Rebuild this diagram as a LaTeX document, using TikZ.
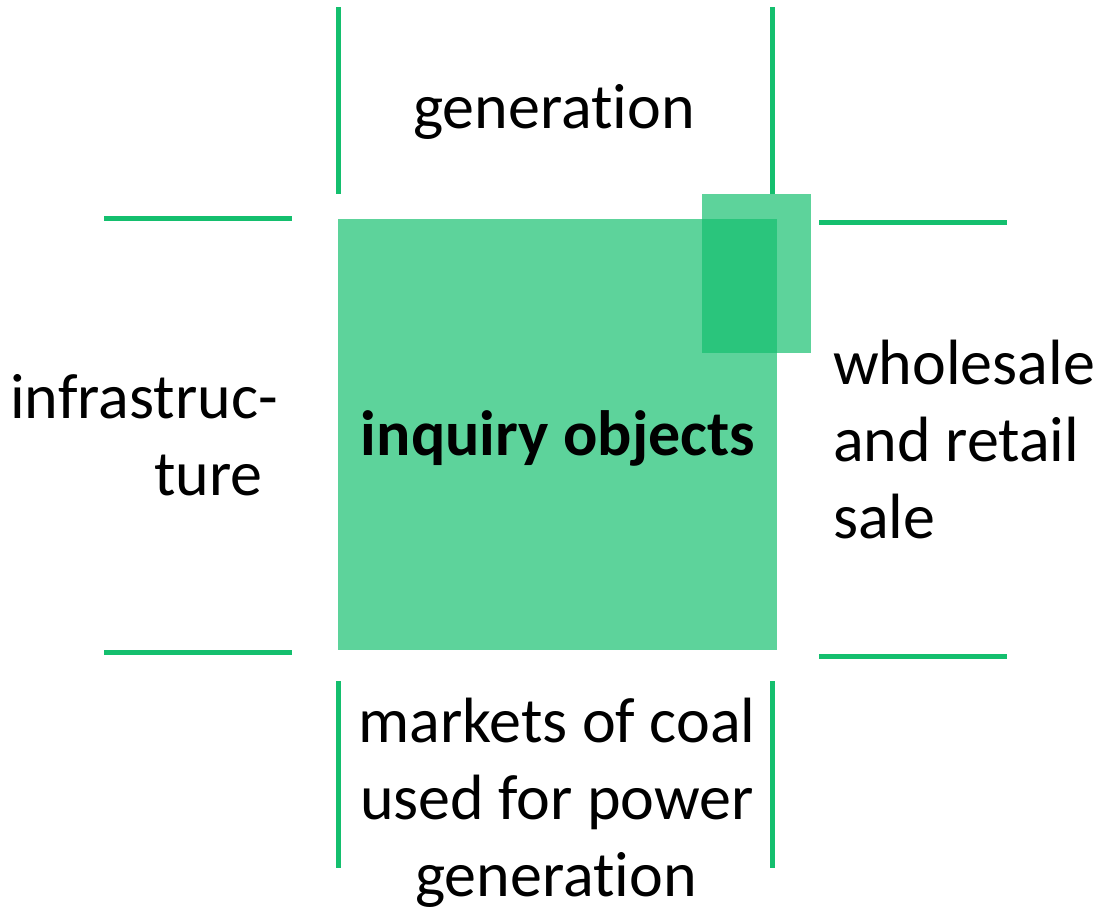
\documentclass[tikz,border=0pt]{standalone}
\usepackage{fontspec}
\setmainfont[Ligatures=NoCommon]{Carlito}
\definecolor{grn}{RGB}{20,191,110}
\begin{document}
\begin{tikzpicture}[x=1pt,y=-1pt,
  bar/.style={draw=grn, line width=5pt},
  sq/.style={fill=grn, fill opacity=0.69, draw=none, inner sep=0pt, anchor=north west},
  lbl/.style={font=\fontsize{64}{77}\selectfont, inner sep=0pt, anchor=base}]
\useasboundingbox (0,0) rectangle (1098,906);
\node[sq, minimum width=439pt, minimum height=431pt] (main) at (338,219) {};
\node[sq, minimum width=109pt, minimum height=159pt] (corner) at (702,194) {};
% bars
\draw[bar] (338,7) -- (338,194);
\draw[bar] (772,7) -- (772,194);
\draw[bar] (104,218) -- (292,218);
\draw[bar] (104,652) -- (292,652);
\draw[bar] (819,222) -- (1007,222);
\draw[bar] (819,656) -- (1007,656);
\draw[bar] (338,681) -- (338,868);
\draw[bar] (772,681) -- (772,868);
% labels
\node[lbl] (gen) at (554,128) {generation};
\node[lbl, font=\fontsize{64}{77}\selectfont\bfseries] (inq) at (558,455) {inquiry objects};
\node[lbl, anchor=base east] (inf1) at (278,418) {infrastruc-};
\node[lbl, anchor=base east] (inf2) at (263,495) {ture};
\node[lbl, anchor=base west] (ws1) at (833,384) {wholesale};
\node[lbl, anchor=base west] (ws2) at (833,461) {and retail};
\node[lbl, anchor=base west] (ws3) at (833,538) {sale};
\node[lbl] (mk1) at (557,742) {markets of coal};
\node[lbl] (mk2) at (557,819) {used for power};
\node[lbl] (mk3) at (556,896) {generation};
\end{tikzpicture}
\end{document}
